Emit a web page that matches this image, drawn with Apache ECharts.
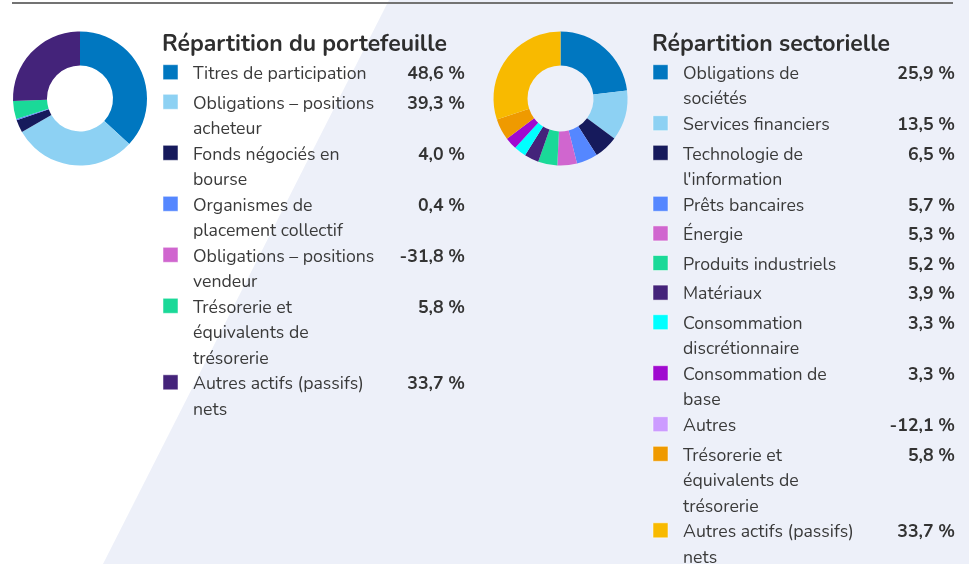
<!DOCTYPE html>
<html>
<head>
<meta charset="utf-8">
<script src="https://cdn.jsdelivr.net/npm/echarts@6/dist/echarts.min.js"></script>
<style>
    html, body { margin: 0; padding: 0; background: #fff; }
    #chart { width: 969px; height: 564px; }
</style>
</head>
<body>
<div id="chart"></div>
<script>
// Répartition du portefeuille
var portNames = [
    'Titres de participation',
    'Obligations – positions\nacheteur',
    'Fonds négociés en\nbourse',
    'Organismes de\nplacement collectif',
    'Obligations – positions\nvendeur',
    'Trésorerie et\néquivalents de\ntrésorerie',
    'Autres actifs (passifs)\nnets'
];
var portValues = [48.6, 39.3, 4.0, 0.4, -31.8, 5.8, 33.7];
var portColors = ['#0077c0', '#8dd1f3', '#161a5c', '#5587ff', '#d066cf', '#1ad998', '#44237a'];

// Répartition sectorielle
var sectNames = [
    'Obligations de\nsociétés',
    'Services financiers',
    'Technologie de\nl\'information',
    'Prêts bancaires',
    'Énergie',
    'Produits industriels',
    'Matériaux',
    'Consommation\ndiscrétionnaire',
    'Consommation de\nbase',
    'Autres',
    'Trésorerie et\néquivalents de\ntrésorerie',
    'Autres actifs (passifs)\nnets'
];
var sectValues = [25.9, 13.5, 6.5, 5.7, 5.3, 5.2, 3.9, 3.3, 3.3, -12.1, 5.8, 33.7];
var sectColors = ['#0077c0', '#8dd1f3', '#161a5c', '#5587ff', '#d066cf', '#1ad998', '#44237a',
    '#00ffff', '#a00ad0', '#cc9cff', '#ef9a00', '#f8ba00'];

var FONT = 'Nunito, Lato, sans-serif';
var LINE_H = 25.5;

function fmt(v) {
    return v.toFixed(1).replace('.', ',') + ' %';
}

// negative weights cannot be drawn as slices
function pieData(names, values, colors) {
    var arr = [];
    for (var i = 0; i < values.length; i++) {
        if (values[i] > 0) {
            arr.push({name: names[i], value: values[i], itemStyle: {color: colors[i]}});
        }
    }
    return arr;
}

function legendBlock(title, names, values, colors, x, valueRight) {
    var els = [];
    els.push({
        type: 'text', x: x - 1, y: 45,
        style: {text: title, font: 'bold 23px ' + FONT, fill: '#2e2e2e', textVerticalAlign: 'middle'}
    });
    var cy = 72.2;
    for (var i = 0; i < names.length; i++) {
        var lines = names[i].split('\n').length;
        els.push({
            type: 'rect',
            shape: {x: x, y: cy - 7.5, width: 15, height: 15},
            style: {fill: colors[i], stroke: 'rgba(255,255,255,0.5)', lineWidth: 1}
        });
        els.push({
            type: 'text', x: x + 30, y: cy - LINE_H / 2 + 2.5,
            style: {text: names[i], font: '17.7px ' + FONT, fill: '#3a3a3a', lineHeight: LINE_H, textVerticalAlign: 'top'}
        });
        els.push({
            type: 'text', x: valueRight, y: cy - LINE_H / 2 + 2.5,
            style: {text: fmt(values[i]), font: 'bold 17.7px ' + FONT, fill: '#333', lineHeight: LINE_H,
                textAlign: 'right', textVerticalAlign: 'top'}
        });
        cy += lines === 1 ? 29.6 : lines * LINE_H;
    }
    return els;
}

var chart = echarts.init(document.getElementById('chart'));

var graphics = [
    {
        type: 'polygon', z: -10,
        shape: {points: [[389, 0], [969, 0], [969, 564], [103, 564]]},
        style: {fill: '#edf0f9'}
    },
    {
        type: 'line', z: -5,
        shape: {x1: 12, y1: 3, x2: 953, y2: 3},
        style: {stroke: '#737373', lineWidth: 2}
    }
].concat(
    legendBlock('Répartition du portefeuille', portNames, portValues, portColors, 163, 465),
    legendBlock('Répartition sectorielle', sectNames, sectValues, sectColors, 653, 955)
);

var option = {
    animation: false,
    graphic: graphics,
    series: [
        {
            name: 'portefeuille',
            type: 'pie',
            center: [80, 98.5],
            radius: [33, 67],
            startAngle: 90,
            clockwise: true,
            silent: true,
            label: {show: false},
            labelLine: {show: false},
            data: pieData(portNames, portValues, portColors)
        },
        {
            name: 'sectorielle',
            type: 'pie',
            center: [560.5, 98.5],
            radius: [33, 67],
            startAngle: 90,
            clockwise: true,
            silent: true,
            label: {show: false},
            labelLine: {show: false},
            data: pieData(sectNames, sectValues, sectColors)
        }
    ]
};

chart.setOption(option);
</script>
</body>
</html>
